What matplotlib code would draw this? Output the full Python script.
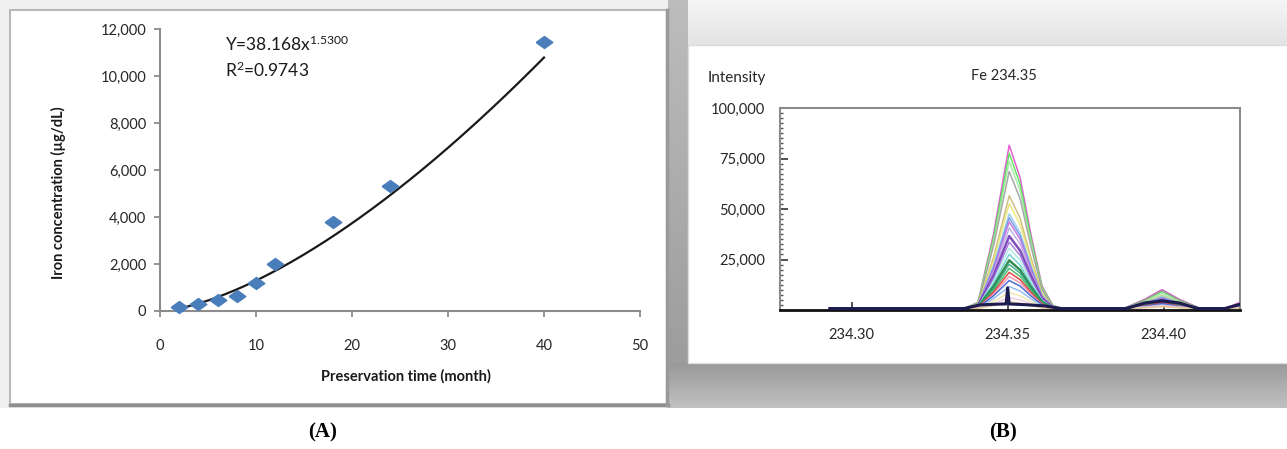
import numpy as np
import matplotlib
matplotlib.use("Agg")
import matplotlib.pyplot as plt
from matplotlib.patches import Rectangle
from matplotlib.ticker import MultipleLocator, FuncFormatter

plt.rcParams['font.family'] = ['Lato', 'DejaVu Sans']
plt.rcParams['mathtext.fontset'] = 'custom'
plt.rcParams['mathtext.rm'] = 'Lato'
plt.rcParams['mathtext.it'] = 'Lato:italic'
plt.rcParams['mathtext.bf'] = 'Lato:bold'

# ---------------- Panel A data ----------------
months = [2, 4, 6, 8, 10, 12, 18, 24, 40]
iron_conc = [180, 310, 450, 620, 1200, 2000, 3800, 5300, 11450]
fit_a = 38.168
fit_b = 1.53
fit_r2 = 0.9743
a_xticks = [0, 10, 20, 30, 40, 50]
a_yticks = [0, 2000, 4000, 6000, 8000, 10000, 12000]

# ---------------- Panel B data ----------------
wavelength = [234.293, 234.336, 234.3405, 234.3455, 234.3505, 234.354, 234.3575,
              234.361, 234.3645, 234.368, 234.387, 234.394, 234.3995, 234.405,
              234.412, 234.4195, 234.4245]
main_rel = [0, 0, 0.04, 0.46, 1.00, 0.80, 0.45, 0.14, 0.02, 0, 0, 0, 0, 0, 0, 0, 0]
minor_rel = [0, 0, 0, 0, 0, 0, 0, 0, 0, 0, 0, 0.5, 1.0, 0.5, 0, 0, 0]
tail_rel = [0, 0, 0, 0, 0, 0, 0, 0, 0, 0, 0, 0, 0, 0, 0, 0, 1]
series_peak = [81000, 77000, 73000, 68000, 56000, 52000, 47000, 45000, 43000, 40000,
               36000, 33000, 30000, 27000, 24000, 22000, 20000, 18000, 16000, 14000,
               11000, 8000, 5500, 3500]
series_minor = [9500, 8500, 7500, 9000, 6500, 6000, 6000, 5500, 5000, 5000,
                4500, 4000, 4000, 3500, 3500, 3000, 3000, 3000, 2500, 2500,
                2000, 1500, 1500, 1000]
series_tail = [3200, 2500, 2000, 2200, 1500, 1500, 1500, 1500, 1500, 1200,
               1500, 1200, 1000, 1000, 1200, 1000, 1000, 1000, 800, 1000,
               800, 600, 600, 500]
series_colors = ['#e040c8', '#4ee04e', '#9ae89a', '#9a9a9a', '#c8b46e', '#e6e66a',
                 '#8cc8ea', '#6a8ee6', '#c46ae0', '#b4a4e4', '#6a2eb0', '#9a6ad6',
                 '#a6e4e4', '#5ccaca', '#127a32', '#28a484', '#36b456', '#e02424',
                 '#f08aa8', '#3456d0', '#86b4f0', '#f0e2a4', '#f2c4d6', '#e2c494']
baseline_level = 600
navy_wl = [234.293, 234.336, 234.341, 234.345, 234.3495, 234.350, 234.3505, 234.356,
           234.362, 234.367, 234.388, 234.394, 234.3995, 234.405, 234.411, 234.4195, 234.4245]
navy_val = [700, 700, 2500, 2800, 3000, 11000, 3000, 2600, 2000, 700, 700, 3500,
            4500, 3500, 700, 700, 2800]
b_xticks = [234.30, 234.35, 234.40]
b_yticks = [25000, 50000, 75000, 100000]

W, H = 1287, 449
fig = plt.figure(figsize=(W / 100, H / 100), dpi=100)
fig.patch.set_facecolor('white')

# ---------------- background / frames ----------------
bg = fig.add_axes([0, 0, 1, 1], zorder=-10)
bg.set_xlim(0, W)
bg.set_ylim(H, 0)
bg.axis('off')
bg.add_patch(Rectangle((0, 0), 668, 408, fc='#f0f0f0', ec='none'))
# gradient background behind panel B
gh, gw = 408, 619
g = np.full((gh, gw), 0.93)
rows = np.arange(gh)[:, None]
cols = np.arange(gw)[None, :]
g = np.where(rows < 45, 0.96 - 0.07 * rows / 45.0, g)
g = np.where(cols < 20, 0.74 - 0.14 * rows / gh, g)
g = np.where(rows >= 363, 0.60 + 0.16 * (rows - 363) / 45.0, g)
bg.imshow(np.dstack([g, g, g]), extent=(668, 1287, 408, 0), aspect='auto', zorder=0)
bg.add_patch(Rectangle((688, 45), 610, 318, fc='white', ec='#dcdcdc', lw=1, zorder=1))
bg.add_patch(Rectangle((10, 10), 657, 394, fc='white', ec='#b8b8b8', lw=1.5, zorder=1))
bg.plot([10, 668], [404.5, 404.5], color='#8e8e8e', lw=2.5, zorder=2)
bg.plot([667, 667], [10, 405], color='#9a9a9a', lw=2.5, zorder=2)

# ---------------- Panel A ----------------
axA = fig.add_axes([160 / W, (H - 311) / H, 480 / W, 282 / H])
axA.set_facecolor('white')
x_fit = np.linspace(min(months), max(months), 200)
axA.plot(x_fit, fit_a * x_fit ** fit_b, color='#1a1a1a', lw=1.6, zorder=2)
diamond = [(-1, 0), (0, 0.72), (1, 0), (0, -0.72), (-1, 0)]
axA.plot(months, iron_conc, linestyle='none', marker=diamond, markersize=12,
         color='#4a7ebb', markeredgecolor='#4a7ebb', zorder=3, clip_on=False)
axA.set_xlim(0, 50)
axA.set_ylim(0, 12000)
axA.set_xticks(a_xticks)
axA.set_yticks(a_yticks)
axA.yaxis.set_major_formatter(FuncFormatter(lambda v, p: f'{int(v):,}'))
for s in ['top', 'right']:
    axA.spines[s].set_visible(False)
for s in ['left', 'bottom']:
    axA.spines[s].set_color('#8c8c8c')
    axA.spines[s].set_linewidth(1.5)
axA.tick_params(axis='both', direction='out', length=4, width=1.3, color='#8c8c8c',
                labelsize=10.5, labelcolor='#262626')
axA.tick_params(axis='y', pad=6)
axA.tick_params(axis='x', pad=16)
axA.set_xlabel('Preservation time (month)', fontsize=10.5, fontweight='bold', color='#1a1a1a')
axA.xaxis.set_label_coords(0.5125, -0.205)
axA.set_ylabel('Iron concentration (\u00b5g/dL)', fontsize=10.5, fontweight='bold', color='#1a1a1a')
axA.yaxis.set_label_coords(-0.196, 0.42)
axA.text(0.135, 0.945, r'Y=38.168x$^{\mathrm{1.5300}}$', transform=axA.transAxes,
         fontsize=12.5, color='#1a1a1a', va='center', ha='left')
axA.text(0.135, 0.855, r'R$^{\mathrm{2}}$=' + f'{fit_r2:.4f}', transform=axA.transAxes,
         fontsize=12.5, color='#1a1a1a', va='center', ha='left')

# ---------------- Panel B ----------------
axB = fig.add_axes([780 / W, (H - 310) / H, 460 / W, 202 / H])
axB.set_facecolor('white')
wl = np.array(wavelength)
mr, nr, tr = np.array(main_rel), np.array(minor_rel), np.array(tail_rel)
for i, (pk, mn, tl, c) in enumerate(zip(series_peak, series_minor, series_tail, series_colors)):
    y = baseline_level + pk * mr + mn * nr + tl * tr
    lw = 1.8 if c in ('#6a2eb0', '#127a32') else 1.1
    axB.plot(wl, y, color=c, lw=lw, alpha=0.85, zorder=2 + i * 0.01)
axB.plot(navy_wl, navy_val, color='#1c1c50', lw=2.2, zorder=3)
axB.set_xlim(234.277, 234.4245)
axB.set_ylim(0, 100000)
axB.set_xticks(b_xticks)
axB.set_xticklabels([f'{v:.2f}' for v in b_xticks])
axB.set_yticks(b_yticks)
axB.yaxis.set_major_formatter(FuncFormatter(lambda v, p: f'{int(v):,}'))
axB.yaxis.set_minor_locator(MultipleLocator(2500))
for s in ['top', 'right', 'left']:
    axB.spines[s].set_color('#8c8c8c')
    axB.spines[s].set_linewidth(1.5)
axB.spines['bottom'].set_color('#111111')
axB.spines['bottom'].set_linewidth(2)
axB.tick_params(axis='both', which='major', direction='in', length=6, width=1.2,
                color='#333333', labelsize=10.5, labelcolor='#262626')
axB.tick_params(axis='y', which='minor', direction='in', length=2.5, width=1, color='#555555')
axB.tick_params(axis='y', which='major', pad=11)
axB.tick_params(axis='x', which='major', pad=13)
axB.set_ylabel('Intensity', rotation=0, ha='left', va='center', fontsize=11, color='#262626')
axB.yaxis.set_label_coords(-0.1565, 1.149)
axB.text(0.487, 1.158, 'Fe 234.35', transform=axB.transAxes, ha='center', va='center',
         fontsize=10.5, color='#262626')

# ---------------- panel letters ----------------
fig.text(323 / W, 1 - 432 / H, '(A)', ha='center', va='center', fontsize=15,
         fontweight='bold', family=['Liberation Serif', 'DejaVu Serif'])
fig.text(1003 / W, 1 - 432 / H, '(B)', ha='center', va='center', fontsize=15,
         fontweight='bold', family=['Liberation Serif', 'DejaVu Serif'])

fig.savefig('out.png', dpi=100)
